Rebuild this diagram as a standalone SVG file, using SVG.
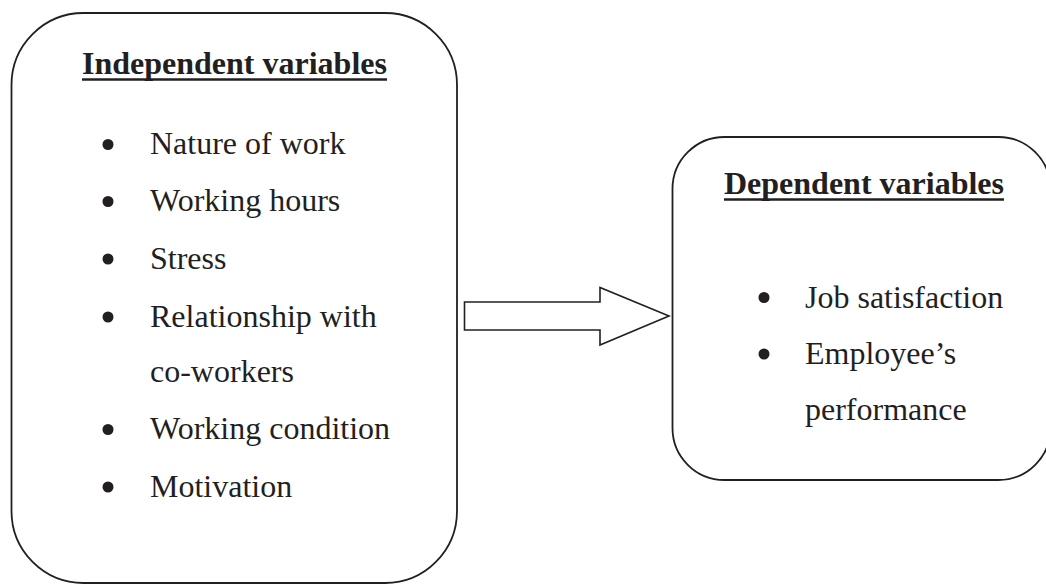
<svg xmlns="http://www.w3.org/2000/svg" width="1046" height="585" viewBox="0 0 1046 585">
<style>
.box{fill:#fff;stroke:#231f20;stroke-width:1.8}
.title{font-family:"Liberation Serif","Times New Roman",serif;font-size:32px;font-weight:bold;fill:#231f20}
.item{font-family:"Liberation Serif","Times New Roman",serif;font-size:32px;fill:#231f20}
.ul{stroke:#231f20;stroke-width:2.6}
.bullet{fill:#231f20}
.arrow{fill:#fff;stroke:#231f20;stroke-width:1.6;stroke-linejoin:miter}
</style>
<rect width="1046" height="585" fill="#fff"/>
<g id="independent">
<rect class="box" x="11.5" y="13" width="445.5" height="570" rx="72" ry="72"/>
<text class="title" x="82" y="74">Independent variables</text>
<line class="ul" x1="82" y1="79.5" x2="387" y2="79.5"/>
<circle class="bullet" cx="108" cy="144.5" r="5.5"/>
<text class="item" x="150" y="154">Nature of work</text>
<circle class="bullet" cx="108" cy="201.5" r="5.5"/>
<text class="item" x="150" y="211">Working hours</text>
<circle class="bullet" cx="108" cy="259" r="5.5"/>
<text class="item" x="150" y="268.5">Stress</text>
<circle class="bullet" cx="108" cy="317" r="5.5"/>
<text class="item" x="150" y="326.5">Relationship with</text>
<text class="item" x="150" y="382">co-workers</text>
<circle class="bullet" cx="108" cy="429.5" r="5.5"/>
<text class="item" x="150" y="439">Working condition</text>
<circle class="bullet" cx="108" cy="487" r="5.5"/>
<text class="item" x="150" y="496.5">Motivation</text>
</g>
<g id="dependent">
<rect class="box" x="672.5" y="137" width="378" height="343" rx="52" ry="52"/>
<text class="title" x="724" y="194">Dependent variables</text>
<line class="ul" x1="724" y1="199.5" x2="1004" y2="199.5"/>
<circle class="bullet" cx="764" cy="297.5" r="5.5"/>
<text class="item" x="805" y="307.5">Job satisfaction</text>
<circle class="bullet" cx="764" cy="354" r="5.5"/>
<text class="item" x="805" y="364">Employee’s</text>
<text class="item" x="805" y="419.5">performance</text>
</g>
<g id="connectors">
<polygon class="arrow" points="464.5,302 600,302 600,287.5 669,316 600,345 600,330 464.5,330"/>
</g>
</svg>
